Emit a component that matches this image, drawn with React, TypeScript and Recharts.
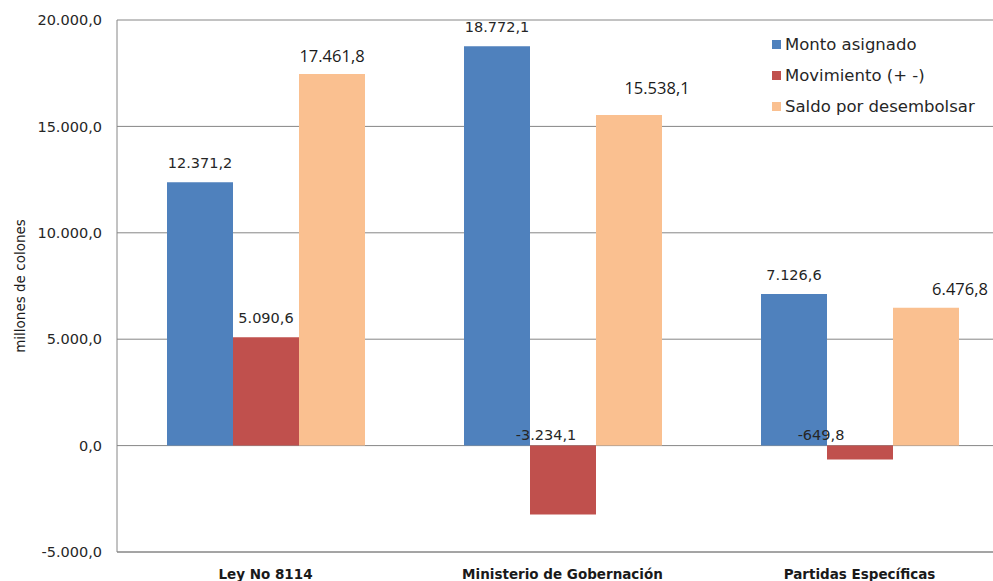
import React from 'react';
import { BarChart, Bar, XAxis, YAxis, CartesianGrid, Legend } from 'recharts';

const categories = ['Ley No 8114', 'Ministerio de Gobernación', 'Partidas Específicas'];
const montoAsignado = [12371.2, 18772.1, 7126.6];
const movimiento = [5090.6, -3234.1, -649.8];
const saldoPorDesembolsar = [17461.8, 15538.1, 6476.8];
const yTicks = [-5000, 0, 5000, 10000, 15000, 20000];

const SERIES = [
  { key: 'monto', name: 'Monto asignado', color: '#4F81BD' },
  { key: 'movimiento', name: 'Movimiento (+ -)', color: '#C0504D' },
  { key: 'saldo', name: 'Saldo por desembolsar', color: '#FAC090' },
];

const rows = categories.map((name, i) => ({
  name,
  monto: montoAsignado[i],
  movimiento: movimiento[i],
  saldo: saldoPorDesembolsar[i],
}));

// hand-placed label shifts [dx, dy] per series and category
const labelShift: Record<string, number[][]> = {
  monto: [[0, 0], [0, 0], [0, 0]],
  movimiento: [[0, 0], [-17, 8], [-39, 8]],
  saldo: [[0, 0], [28, -8], [34, 0]],
};

const GOTHIC = '"DejaVu Sans", sans-serif';
const GRID = '#868686';

// 20000 -> "20.000,0"
const fmt = (v: number) => {
  const neg = v < 0;
  const [int, dec] = Math.abs(v).toFixed(1).split('.');
  const grouped = int.replace(/\B(?=(\d{3})+(?!\d))/g, '.');
  return `${neg ? '-' : ''}${grouped},${dec}`;
};

const ValueLabel = (props: any) => {
  const { x, y, width, height, value, index, series } = props;
  const top = Math.min(y, y + height);
  const [dx, dy] = labelShift[series][index] || [0, 0];
  const calibri = series === 'saldo';
  return (
    <text
      x={x + width / 2 + dx}
      y={top - 19 + dy}
      textAnchor="middle"
      dominantBaseline="central"
      fontFamily={calibri ? '"Open Sans", sans-serif' : GOTHIC}
      fontSize={calibri ? 16.5 : 14.5}
      fill={calibri ? '#1a1a1a' : '#262626'}
    >
      {fmt(value)}
    </text>
  );
};

const CategoryTick = (props: any) => {
  const { x, y, payload } = props;
  return (
    <text
      x={x}
      y={y}
      textAnchor="middle"
      dominantBaseline="central"
      fontFamily={GOTHIC}
      fontWeight="bold"
      fontSize={13.5}
      fill="#1a1a1a"
    >
      {payload.value}
    </text>
  );
};

const LegendBox = () => (
  <div style={{ fontFamily: GOTHIC, fontSize: 16.5, color: '#262626' }}>
    {SERIES.map((s) => (
      <div key={s.key} style={{ display: 'flex', alignItems: 'center', height: 31 }}>
        <span style={{ width: 9, height: 9, background: s.color, marginRight: 4, flex: 'none' }} />
        <span style={{ whiteSpace: 'nowrap' }}>{s.name}</span>
      </div>
    ))}
  </div>
);

export default function App() {
  return (
    <div
      style={{
        position: 'absolute',
        left: 0,
        top: 0,
        width: 993,
        height: 581,
        overflow: 'hidden',
        background: '#fff',
      }}
    >
      <BarChart
        width={1010}
        height={581}
        data={rows}
        margin={{ top: 20, right: 2, bottom: 0, left: 0 }}
        barCategoryGap={50}
        barGap={0}
      >
        <CartesianGrid vertical={false} stroke={GRID} />
        <XAxis
          dataKey="name"
          height={29}
          axisLine={{ stroke: GRID }}
          tickLine={false}
          tickSize={0}
          tickMargin={22}
          tick={<CategoryTick />}
          interval={0}
        />
        <YAxis
          width={117}
          domain={[-5000, 20000]}
          ticks={yTicks}
          tickFormatter={fmt}
          axisLine={{ stroke: GRID }}
          tickLine={false}
          tickSize={0}
          tickMargin={15}
          tick={{ fontFamily: GOTHIC, fontSize: 14.5, fill: '#262626' }}
          label={(p: any) => {
            const vb = p.viewBox;
            return (
              <text
                x={vb.x + 20}
                y={vb.y + vb.height / 2}
                transform={`rotate(-90, ${vb.x + 20}, ${vb.y + vb.height / 2})`}
                textAnchor="middle"
                dominantBaseline="central"
                fontFamily={GOTHIC}
                fontSize={13.5}
                fill="#1a1a1a"
              >
                millones de colones
              </text>
            );
          }}
        />
        {/* centred/middle keeps the legend from shrinking the plot area */}
        <Legend
          layout="vertical"
          verticalAlign="middle"
          align="center"
          content={<LegendBox />}
          wrapperStyle={{ position: 'absolute', left: 772, top: 29, width: 230 }}
        />
        {SERIES.map((s) => (
          <Bar
            key={s.key}
            dataKey={s.key}
            name={s.name}
            fill={s.color}
            isAnimationActive={false}
            label={(p: any) => <ValueLabel {...p} series={s.key} />}
          />
        ))}
      </BarChart>
    </div>
  );
}
